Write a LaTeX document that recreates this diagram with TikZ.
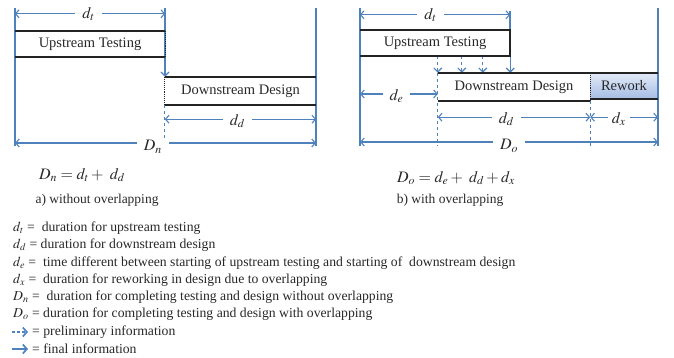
\documentclass[tikz,border=0pt]{standalone}
\usepackage{mathptmx}
\usepackage{fontspec}
\setmainfont{Liberation Serif}
\usetikzlibrary{arrows.meta,positioning}
\definecolor{lineBlue}{RGB}{79,129,189}
\definecolor{reworkTop}{RGB}{226,234,247}
\definecolor{reworkBot}{RGB}{165,188,228}
\definecolor{boxEdge}{RGB}{35,35,35}
\definecolor{labelGray}{RGB}{40,40,40}

\tikzset{
  frameline/.style={lineBlue, line width=1.3pt},
  dimline/.style={lineBlue, line width=1.1pt,
    {Straight Barb[length=3.5pt,width=8pt]}-{Straight Barb[length=3.5pt,width=8pt]}},
  dimlabel/.style={fill=white, text=labelGray, inner xsep=7pt, inner ysep=1pt, font=\fontsize{16}{18}\selectfont},
  taskbox/.style={inner sep=0pt, text=labelGray, font=\fontsize{14.5}{17}\selectfont},
  boxedge/.style={boxEdge, line width=1.6pt},
  boxside/.style={boxEdge, line width=1.1pt, densely dotted},
  infoarrow/.style={lineBlue, line width=1.2pt, -{Straight Barb[length=4pt,width=8pt]}},
  prelim/.style={infoarrow, dashed},
  guide/.style={lineBlue, line width=1.1pt, dashed},
  eqtext/.style={inner sep=0pt, text=labelGray, font=\fontsize{16}{18}\selectfont},
  captext/.style={inner sep=0pt, text=labelGray, font=\fontsize{13.5}{16}\selectfont},
  legendtext/.style={anchor=west, inner sep=0pt, text=labelGray, font=\fontsize{13.7}{15}\selectfont},
  legendarrow/.style={lineBlue, line width=1.7pt, -{Straight Barb[length=4pt,width=9pt]}},
}

\begin{document}
\begin{tikzpicture}[x=1pt,y=-1pt]
  \useasboundingbox (0,0) rectangle (674,358);

  % a) without overlapping
  \coordinate (aL1) at (15,8);
  \coordinate (aL2) at (15,146);
  \coordinate (aM1) at (165,8);
  \coordinate (aR1) at (316,8);
  \coordinate (aR2) at (316,146);

  \node[taskbox, minimum width=150pt, minimum height=26pt] (upTestA) at (90,44) {Upstream Testing};
  \node[taskbox, minimum width=151pt, minimum height=28pt] (downDesA) at (240.5,91) {Downstream Design};

  \draw[frameline] (aL1) -- (aL2);
  \draw[frameline] (aR1) -- (aR2);
  \draw[infoarrow] (aM1) -- (aM1 |- downDesA.north);
  \draw[guide] (downDesA.south west) -- (downDesA.south west |- aL2);

  \draw[boxedge] (upTestA.north west) -- (upTestA.north east)
                 (upTestA.south west) -- (upTestA.south east);
  \draw[boxside] (upTestA.north east) -- (upTestA.south east);
  \draw[boxedge] (downDesA.north west) -- (downDesA.north east)
                 (downDesA.south west) -- (downDesA.south east);
  \draw[boxside] (downDesA.north west) -- (downDesA.south west);

  \draw[dimline] ([yshift=17pt]upTestA.north west) -- ([yshift=17pt]upTestA.north east)
    node[dimlabel, pos=0.49] (dtA) {$d_t$};
  \draw[dimline] ([yshift=-14pt]downDesA.south west) -- ([yshift=-14pt]downDesA.south east)
    node[dimlabel, pos=0.48, yshift=-2pt] (ddA) {$d_d$};
  \draw[dimline] ([yshift=3pt]aL2) -- ([yshift=3pt]aR2)
    node[dimlabel, pos=0.458, yshift=-4pt] (DnA) {$D_n$};

  \node[eqtext] (eqA) at (82,175) {$D_n = d_t + \ d_d$};
  \node[captext] (capA) at (97,200) {a) without overlapping};

  % b) with overlapping
  \coordinate (bL1) at (360,8);
  \coordinate (bL2) at (360,146);
  \coordinate (bU1) at (510,11);
  \coordinate (bR1) at (658,8);
  \coordinate (bR2) at (658,146);

  \node[taskbox, minimum width=150pt, minimum height=26pt] (upTestB) at (435,43) {Upstream Testing};
  \node[taskbox, minimum width=152pt, minimum height=28pt] (downDesB) at (514,87) {Downstream Design};
  \node[taskbox, minimum width=68pt, minimum height=26pt, top color=reworkTop, bottom color=reworkBot]
    (reworkB) at (624,86) {Rework};

  \draw[frameline] (bL1) -- (bL2);
  \draw[frameline] (bR1) -- (bR2);
  \draw[frameline] (bU1) -- (bU1 |- upTestB.north);
  \draw[infoarrow] (upTestB.south east) -- (upTestB.south east |- downDesB.north);
  \foreach \dx in {78,102,123}
    \draw[prelim] ([xshift=\dx pt]upTestB.south west) -- ([xshift=\dx pt]upTestB.south west |- downDesB.north);
  \draw[guide] (downDesB.north west) -- (downDesB.north west |- bL2);
  \draw[guide] (downDesB.south east) -- (downDesB.south east |- bL2);

  \draw[boxedge] (upTestB.north west) -- (upTestB.north east) -- (upTestB.south east) -- (upTestB.south west);
  \draw[boxedge] (downDesB.north west) -- (reworkB.north east |- downDesB.north)
                 (downDesB.south west) -- (downDesB.south east);
  \draw[boxedge] (reworkB.south west) -- (reworkB.south east);
  \draw[boxside] (downDesB.north east) -- (downDesB.south east);

  \draw[dimline] ([yshift=15pt]upTestB.north west) -- ([yshift=15pt]upTestB.north east)
    node[dimlabel, pos=0.47] (dtB) {$d_t$};
  \draw[dimline] ([yshift=-7pt]bL1 |- downDesB.west) -- ([yshift=-7pt]downDesB.west)
    node[dimlabel, pos=0.47, yshift=-2pt] (deB) {$d_e$};
  \draw[dimline] ([yshift=-16pt]downDesB.south west) -- ([yshift=-16pt]downDesB.south east)
    node[dimlabel, pos=0.45, yshift=-2pt] (ddB) {$d_d$};
  \draw[dimline] ([yshift=-16pt]downDesB.south east) -- ([yshift=-16pt]downDesB.south east -| bR1)
    node[dimlabel, pos=0.42, yshift=-2pt, inner xsep=4pt] (dxB) {$d_x$};
  \draw[dimline] ([yshift=4pt]bL2) -- ([yshift=4pt]bR2)
    node[dimlabel, pos=0.5, yshift=-4pt] (DoB) {$D_o$};

  \node[eqtext] (eqB) at (456,178) {$D_o = d_e + \ d_d + d_x$};
  \node[captext] (capB) at (450,200) {b) with overlapping};

  % legend
  \node[legendtext] (legDt) at (13,228) {$d_t$ =\ \ duration for upstream testing};
  \node[legendtext] (legDd) at (13,245) {$d_d$ = duration for downstream design};
  \node[legendtext] (legDe) at (13,263) {$d_e$ =\ \ time different between starting of upstream testing and starting of\ \ downstream design};
  \node[legendtext] (legDx) at (13,280) {$d_x$ =\ \ duration for reworking in design due to overlapping};
  \node[legendtext] (legDn) at (13,297) {$D_n$ =\ \ duration for completing testing and design without overlapping};
  \node[legendtext] (legDo) at (13,314) {$D_o$ = duration for completing testing and design with overlapping};

  \coordinate (legP1) at (12,332);
  \coordinate (legP2) at (28,332);
  \coordinate (legF1) at (12,349);
  \coordinate (legF2) at (28,349);
  \draw[legendarrow, dashed, dash pattern=on 3pt off 2pt] (legP1) -- (legP2);
  \draw[legendarrow] (legF1) -- (legF2);
  \node[legendtext, right=4pt of legP2] (legPrelim) {= preliminary information};
  \node[legendtext, right=4pt of legF2] (legFinal) {= final information};
\end{tikzpicture}
\end{document}
